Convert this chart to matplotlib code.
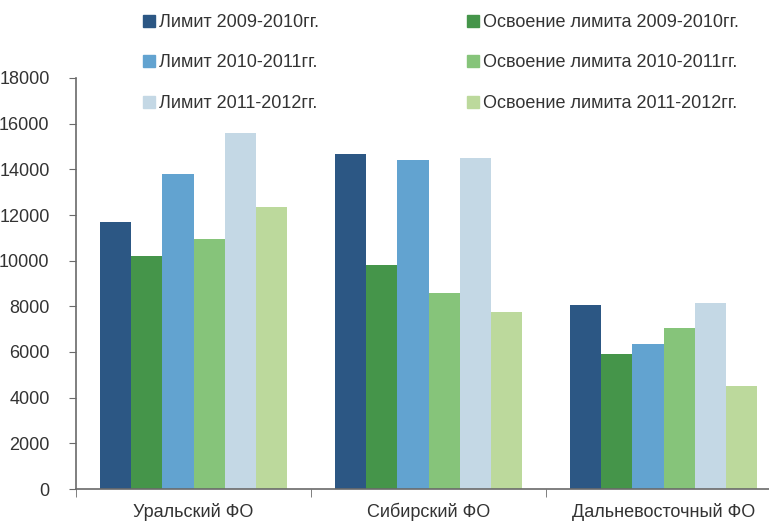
import numpy as np
import matplotlib.pyplot as plt
from matplotlib.patches import Patch

plt.rcParams['font.family'] = ['Liberation Sans', 'DejaVu Sans']

regions = ['Уральский ФО', 'Сибирский ФО', 'Дальневосточный ФО']

limit_0910 = [11700, 14650, 8050]
osv_0910 = [10200, 9800, 5900]
limit_1011 = [13800, 14400, 6350]
osv_1011 = [10950, 8570, 7050]
limit_1112 = [15600, 14500, 8150]
osv_1112 = [12350, 7750, 4500]

series = [limit_0910, osv_0910, limit_1011, osv_1011, limit_1112, osv_1112]
labels = ['Лимит 2009-2010гг.', 'Освоение лимита 2009-2010гг.',
          'Лимит 2010-2011гг.', 'Освоение лимита 2010-2011гг.',
          'Лимит 2011-2012гг.', 'Освоение лимита 2011-2012гг.']
colors = ['#2c5784', '#45954a', '#62a3d0', '#86c47a', '#c4d8e5', '#bcd99c']

text_col = '#333333'
axis_col = '#6a6a6a'

W, H = 769, 522
fig = plt.figure(figsize=(W / 100, H / 100), dpi=100)
# axis spans one group width past the right edge, like the original crop
ax = fig.add_axes([76 / W, (H - 489) / H, (781 - 76) / W, (489 - 78) / H])

x = np.arange(len(regions))
bw = 0.133
for i, vals in enumerate(series):
    ax.bar(x + (i - 2.5) * bw, vals, bw, color=colors[i], linewidth=0)

ax.set_xlim(-0.5, 2.5)
ax.set_ylim(0, 18000)
ax.set_yticks(range(0, 18001, 2000))
ax.set_xticks(x)
ax.set_xticklabels(regions, fontsize=13, color=text_col)
ax.tick_params(axis='x', length=0, pad=10)
ax.set_xticks([-0.5, 0.5, 1.5, 2.5], minor=True)
ax.tick_params(axis='x', which='minor', length=6, color=axis_col, direction='out')
ax.tick_params(axis='y', length=5, color=axis_col, labelsize=13, labelcolor=text_col, pad=14)

for s in ['top', 'right']:
    ax.spines[s].set_visible(False)
for s in ['left', 'bottom']:
    ax.spines[s].set_color(axis_col)
    ax.spines[s].set_linewidth(1.2)

left_handles = [Patch(color=colors[i], label=labels[i]) for i in (0, 2, 4)]
right_handles = [Patch(color=colors[i], label=labels[i]) for i in (1, 3, 5)]
for handles, xpos in [(left_handles, 143), (right_handles, 467)]:
    leg = fig.legend(handles=handles, loc='upper left',
                     bbox_to_anchor=(xpos / W, 1 - 14 / H),
                     frameon=False, fontsize=13, borderpad=0, borderaxespad=0,
                     handlelength=0.65, handleheight=0.65, handletextpad=0.25,
                     labelspacing=1.3, labelcolor=text_col)

fig.savefig('out.png', dpi=100)
